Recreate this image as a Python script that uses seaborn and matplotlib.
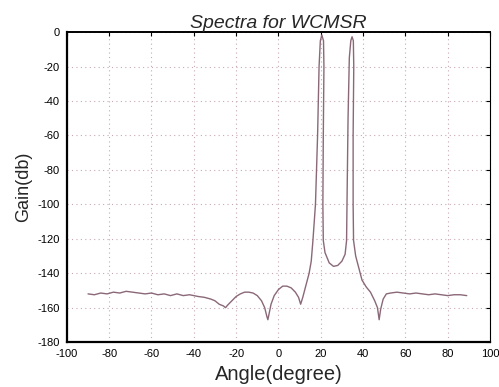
import matplotlib
matplotlib.use("Agg")
import matplotlib.pyplot as plt
import seaborn as sns
import pandas as pd

angle = [-90, -87, -84, -81, -78, -75, -72, -69, -66, -63, -60, -57, -54, -51, -48, -45,
         -42, -40, -38, -35, -32, -30, -28, -26, -25, -24, -22, -20, -18, -16, -14, -12,
         -10, -8, -6.5, -5.5, -5, -4.5, -3.5, -2, 0, 2, 4, 6, 8, 9.5, 10.5, 11.5, 13, 14.5,
         15.5, 16.3, 17.5, 18.5, 19.2, 19.8, 20.5, 21.3, 21.5, 21.2, 21.0, 21.2, 22, 24, 26,
         28, 30, 31.5, 32.2, 32.4, 32.9, 33.5, 34.2, 34.8, 35.4, 35.6, 35.3, 35.3, 35.5,
         36.5, 38, 39.5, 41.5, 43.5, 45.5, 46.8, 47.6, 48.3, 49.5, 51,
         53, 56, 59, 62, 65, 68, 71, 74, 77, 80, 83, 86, 89]
gain = [-152, -152.5, -151.5, -152, -151, -151.5, -150.5, -151, -151.5, -152, -151.5, -152.5,
        -152, -153, -152, -153, -152.5, -153, -153.5, -154, -155, -156, -158, -159, -160,
        -158.5, -156, -153.5, -152, -151, -151, -151.5, -153, -156, -160, -165, -167, -164,
        -158, -153, -149.5, -147.5, -147.5, -148.5, -151, -154, -158, -154, -147, -140,
        -133, -121, -100, -60, -20, -5, -1.7, -5, -20, -60, -100, -121, -128, -134, -136,
        -135.5, -133, -129, -121, -100, -50, -15, -5, -2.7, -5, -20, -60, -100, -121,
        -130, -137, -144, -148, -151, -156, -160, -167, -161, -155, -152,
        -151.5, -151, -151.5, -152, -151.5, -152, -152.5, -152, -152.5,
        -153, -152.5, -152.5, -153]

xticks = list(range(-100, 101, 20))
yticks = list(range(-180, 1, 20))

df = pd.DataFrame({"Angle": angle, "Gain": gain})

sns.set_style("white")
plt.rcParams["font.family"] = ["Liberation Sans", "DejaVu Sans"]
plt.rcParams["axes.unicode_minus"] = False

fig = plt.figure(figsize=(4.99, 3.87), dpi=100)
ax = fig.add_axes([0.134, 0.116, 0.848, 0.801])
sns.lineplot(data=df, x="Angle", y="Gain", ax=ax, color="#8a6878", linewidth=1.0,
             sort=False, estimator=None)

ax.set_xlim(-100, 100)
ax.set_ylim(-180, 0)
ax.set_xticks(xticks)
ax.set_yticks(yticks)
ax.tick_params(direction="in", top=True, right=True, length=3, labelsize=8, pad=5,
               colors="black")
ax.grid(True, linestyle=(0, (1, 3)), color="#c9a9b4", linewidth=0.8)
for s in ax.spines.values():
    s.set_color("black")
    s.set_linewidth(0.8)
ax.spines["left"].set_linewidth(1.6)
ax.spines["bottom"].set_linewidth(1.6)
ax.spines["top"].set_linewidth(1.4)

ax.set_xlabel("Angle(degree)", fontsize=14.5, labelpad=4)
ax.set_ylabel("Gain(db)", fontsize=13, labelpad=4)
ax.set_title("Spectra for WCMSR", fontsize=14, style="italic", pad=3)

fig.savefig("out.png", dpi=100)
